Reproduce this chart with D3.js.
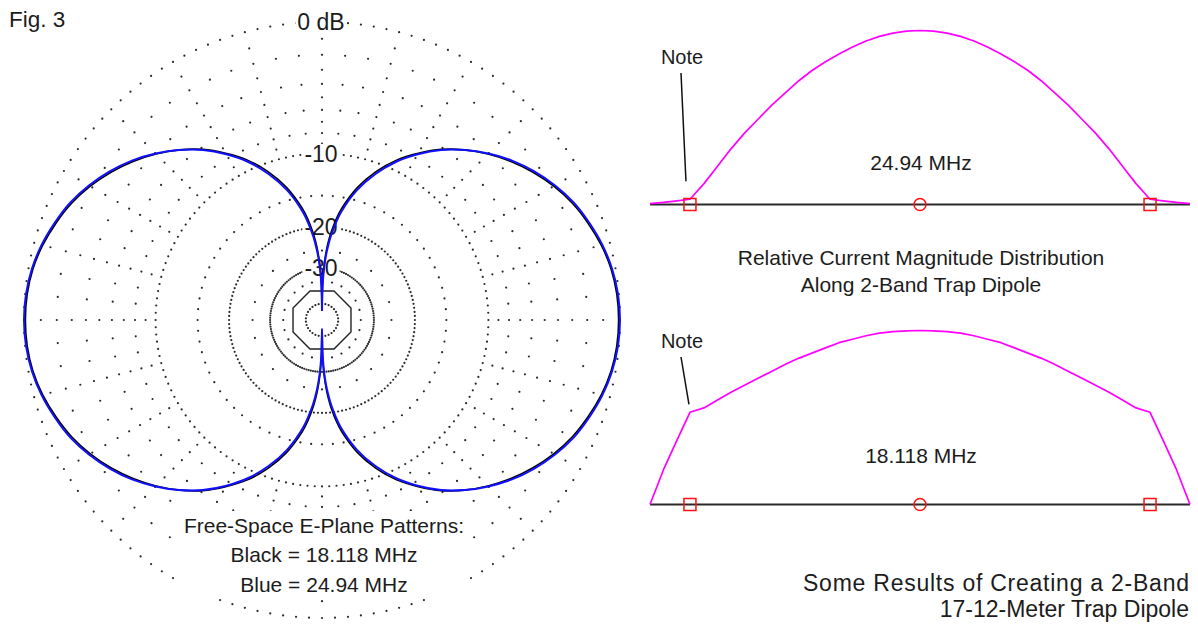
<!DOCTYPE html>
<html>
<head>
<meta charset="utf-8">
<script src="https://cdn.jsdelivr.net/npm/d3@7"></script>
<style>
  html, body { margin: 0; padding: 0; background: #fff; }
  svg { display: block; }
  text { font-family: "Liberation Sans", Arial, Helvetica, sans-serif; fill: #1c1c1c; }
</style>
</head>
<body>
<svg id="chart" width="1198" height="627"></svg>
<script>
// ---------- Free-space E-plane patterns ----------
// azimuth in degrees (0 = top, clockwise), relative gain in dB
const patternAngles = [
  0, 1, 2, 3, 4, 5, 6, 8, 10, 15, 20, 25, 30, 35, 40, 45, 50, 55, 60, 65, 70, 75, 80, 85, 90,
  95, 100, 105, 110, 115, 120, 125, 130, 135, 140, 145, 150, 155, 160, 165, 170, 172, 174, 175, 176, 177, 178, 179, 180,
  181, 182, 183, 184, 185, 186, 188, 190, 195, 200, 205, 210, 215, 220, 225, 230, 235, 240, 245, 250, 255, 260, 265, 270,
  275, 280, 285, 290, 295, 300, 305, 310, 315, 320, 325, 330, 335, 340, 345, 350, 352, 354, 355, 356, 357, 358, 359, 360
];
// Black = 18.118 MHz
const gain18118 = [
  -60, -35.5, -29.8, -26.5, -24.1, -22.3, -20.8, -18.4, -16.6, -13.3, -10.9, -9.0, -7.5, -6.15, -5.05, -4.1, -3.25, -2.5, -1.85, -1.3, -0.88, -0.52, -0.26, -0.12, -0.08,
  -0.12, -0.26, -0.52, -0.88, -1.3, -1.85, -2.5, -3.25, -4.1, -5.05, -6.15, -7.5, -9.0, -10.9, -13.3, -16.6, -18.4, -20.8, -22.3, -24.1, -26.5, -29.8, -35.5, -60,
  -35.5, -29.8, -26.5, -24.1, -22.3, -20.8, -18.4, -16.6, -13.3, -10.9, -9.0, -7.5, -6.15, -5.05, -4.1, -3.25, -2.5, -1.85, -1.3, -0.88, -0.52, -0.26, -0.12, -0.08,
  -0.12, -0.26, -0.52, -0.88, -1.3, -1.85, -2.5, -3.25, -4.1, -5.05, -6.15, -7.5, -9.0, -10.9, -13.3, -16.6, -18.4, -20.8, -22.3, -24.1, -26.5, -29.8, -35.5, -60
];
// Blue = 24.94 MHz
const gain2494 = [
  -60, -37.3, -31.2, -27.7, -25.2, -23.3, -21.7, -19.2, -17.2, -13.7, -11.2, -9.2, -7.6, -6.2, -5.05, -4.05, -3.15, -2.4, -1.75, -1.2, -0.8, -0.45, -0.2, -0.05, 0,
  -0.05, -0.2, -0.45, -0.8, -1.2, -1.75, -2.4, -3.15, -4.05, -5.05, -6.2, -7.6, -9.2, -11.2, -13.7, -17.2, -19.2, -21.7, -23.3, -25.2, -27.7, -31.2, -37.3, -60,
  -37.3, -31.2, -27.7, -25.2, -23.3, -21.7, -19.2, -17.2, -13.7, -11.2, -9.2, -7.6, -6.2, -5.05, -4.05, -3.15, -2.4, -1.75, -1.2, -0.8, -0.45, -0.2, -0.05, 0,
  -0.05, -0.2, -0.45, -0.8, -1.2, -1.75, -2.4, -3.15, -4.05, -5.05, -6.2, -7.6, -9.2, -11.2, -13.7, -17.2, -19.2, -21.7, -23.3, -25.2, -27.7, -31.2, -37.3, -60
];

// ---------- Polar grid (ARRL log scale, dB) ----------
const ringsFine = [0, -10, -20, -30];           // dotted every 2.5 degrees
const ringsMedium = [-2, -4, -6, -8, -15];      // dotted every 5 degrees
const spokeLevels = [-1, -3, -5, -7, -9, -25, -35]; // dots on the 15-degree spokes
const ringInner = -50;
const ringSolid = -40;
const dbLabels = ["0 dB", "-10", "-20", "-30"];
const dbLabelLevels = [0, -10, -20, -30];
const legendLines = ["Free-Space E-Plane Patterns:", "Black = 18.118 MHz", "Blue = 24.94 MHz"];

// ---------- Relative current along the wire ----------
// position from left end (-1) through feed (0) to right end (+1)
const wirePos = [
  -1, -0.95, -0.9, -0.852, -0.8, -0.75, -0.7, -0.65, -0.6, -0.55, -0.5, -0.45, -0.4, -0.35, -0.3, -0.25, -0.2, -0.15, -0.1, -0.05, 0,
  0.05, 0.1, 0.15, 0.2, 0.25, 0.3, 0.35, 0.4, 0.45, 0.5, 0.55, 0.6, 0.65, 0.7, 0.75, 0.8, 0.852, 0.9, 0.95, 1
];
const current2494 = [
  0.005, 0.012, 0.021, 0.03, 0.12, 0.22, 0.32, 0.41, 0.49, 0.57, 0.64, 0.71, 0.77, 0.82, 0.865, 0.905, 0.94, 0.966, 0.985, 0.996, 1,
  0.996, 0.985, 0.966, 0.94, 0.905, 0.865, 0.82, 0.77, 0.71, 0.64, 0.57, 0.49, 0.41, 0.32, 0.22, 0.12, 0.03, 0.021, 0.012, 0.005
];
const current18118 = [
  0, 0.2, 0.37, 0.53, 0.555, 0.6, 0.645, 0.685, 0.725, 0.765, 0.805, 0.84, 0.87, 0.9, 0.93, 0.95, 0.97, 0.985, 0.993, 0.998, 1,
  0.998, 0.993, 0.985, 0.97, 0.95, 0.93, 0.9, 0.87, 0.84, 0.805, 0.765, 0.725, 0.685, 0.645, 0.6, 0.555, 0.53, 0.37, 0.2, 0
];
const trapPos = [-0.852, 0.852];
const feedPos = [0];
const panelTitles = ["24.94 MHz", "18.118 MHz"];
const captionLines = ["Relative Current Magnitude Distribution", "Along 2-Band Trap Dipole"];
const titleLines = ["Some Results of Creating a 2-Band", "17-12-Meter Trap Dipole"];

// ====================================================================
const svg = d3.select("#chart");

// ---------- polar plot ----------
const cx = 322, cy = 320, R = 298;
// ARRL log scale: radius shrinks by 0.89 per 2 dB -> a power law on field strength
const amp = d3.scalePow().exponent(-10 * Math.log10(0.89)).domain([0, 1]).range([0, R]);
const rOf = db => amp(Math.pow(10, db / 20));
const rad = deg => deg * Math.PI / 180;

const polar = svg.append("g").attr("transform", `translate(${cx},${cy})`);
const gridDots = [];
const addRing = (db, step) => {
  for (let a = 0; a < 360 - 1e-6; a += step) gridDots.push({ r: rOf(db), a });
};
ringsFine.forEach(db => addRing(db, 2.5));
ringsMedium.forEach(db => addRing(db, 5));
addRing(ringInner, 12);
spokeLevels.forEach(db => { for (let a = 0; a < 360; a += 15) gridDots.push({ r: rOf(db), a }); });

polar.append("g").selectAll("circle").data(gridDots).join("circle")
  .attr("cx", d => d.r * Math.sin(rad(d.a)))
  .attr("cy", d => -d.r * Math.cos(rad(d.a)))
  .attr("r", 1.1)
  .attr("fill", "#2a2a2a");

// solid -40 dB octagon
const octR = rOf(ringSolid) / Math.cos(rad(22.5));
const octagon = d3.range(8).map(i => [rad(22.5 + 45 * i), octR]);
polar.append("path")
  .attr("d", d3.lineRadial().curve(d3.curveLinearClosed)(octagon))
  .attr("fill", "none").attr("stroke", "#222").attr("stroke-width", 1.4);

// dB labels on the vertical axis, boxed in white
dbLabels.forEach((t, i) => {
  const y = -rOf(dbLabelLevels[i]);
  const g = polar.append("g");
  const txt = g.append("text").attr("x", -1).attr("y", y).attr("dy", "0.36em")
    .attr("text-anchor", "middle").attr("font-size", 23).text(t);
  const bb = txt.node().getBBox();
  g.insert("rect", "text").attr("x", bb.x - 2).attr("y", bb.y + 3)
    .attr("width", bb.width + 4).attr("height", bb.height - 5).attr("fill", "#fff");
});

// pattern traces
const patternLine = d3.lineRadial()
  .angle(d => rad(d[0])).radius(d => rOf(d[1]))
  .curve(d3.curveCatmullRom.alpha(0.5));
polar.append("path")
  .attr("d", patternLine(patternAngles.map((a, i) => [a, gain18118[i]])))
  .attr("fill", "none").attr("stroke", "#000").attr("stroke-width", 1.6);
polar.append("path")
  .attr("d", patternLine(patternAngles.map((a, i) => [a, gain2494[i]])))
  .attr("fill", "none").attr("stroke", "#1010ff").attr("stroke-width", 2);

// legend block under the plot
svg.append("rect").attr("x", 176).attr("y", 511).attr("width", 294).attr("height", 86).attr("fill", "#fff");
svg.append("text").attr("text-anchor", "middle").attr("font-size", 21)
  .selectAll("tspan").data(legendLines).join("tspan")
  .attr("x", 324).attr("y", (d, i) => 533 + i * 29.3).text(d => d);

svg.append("text").attr("x", 9).attr("y", 27).attr("font-size", 22.5).text("Fig. 3");

// ---------- current distribution panels ----------
const xw = d3.scaleLinear().domain([-1, 1]).range([650, 1190]);
const panels = [
  { base: 204.5, values: current2494, title: panelTitles[0], titleY: 170, noteY: 64, noteFrom: [681, 73], noteOff: [-4, -18] },
  { base: 504.5, values: current18118, title: panelTitles[1], titleY: 463, noteY: 348, noteFrom: [681, 357], noteOff: [-1, -8] }
];
panels.forEach(p => {
  const y = d3.scaleLinear().domain([0, 1]).range([p.base, p.base - 174]);
  const g = svg.append("g");
  g.append("line").attr("x1", xw(-1)).attr("x2", xw(1)).attr("y1", p.base).attr("y2", p.base)
    .attr("stroke", "#2a2a2a").attr("stroke-width", 2);
  g.append("path")
    .attr("d", d3.line().x(d => xw(d[0])).y(d => y(d[1])).curve(d3.curveLinear)(wirePos.map((w, i) => [w, p.values[i]])))
    .attr("fill", "none").attr("stroke", "#ff00ff").attr("stroke-width", 1.7).attr("stroke-linejoin", "round");
  g.selectAll("rect.trap").data(trapPos).join("rect").attr("class", "trap")
    .attr("x", d => xw(d) - 6).attr("y", p.base - 6).attr("width", 12).attr("height", 12)
    .attr("fill", "none").attr("stroke", "#ff1010").attr("stroke-width", 1.5);
  g.selectAll("circle.feed").data(feedPos).join("circle").attr("class", "feed")
    .attr("cx", d => xw(d)).attr("cy", p.base).attr("r", 6)
    .attr("fill", "none").attr("stroke", "#ff1010").attr("stroke-width", 1.5);
  g.append("text").attr("x", xw(0) + 1).attr("y", p.titleY).attr("text-anchor", "middle")
    .attr("font-size", 21).text(p.title);
  // "Note" pointer to the left trap
  const ti = wirePos.indexOf(trapPos[0]);
  const tip = [xw(trapPos[0]) + p.noteOff[0], y(p.values[ti]) + p.noteOff[1]];
  g.append("text").attr("x", 682).attr("y", p.noteY).attr("text-anchor", "middle")
    .attr("font-size", 20).text("Note");
  g.append("line").attr("x1", p.noteFrom[0]).attr("y1", p.noteFrom[1]).attr("x2", tip[0]).attr("y2", tip[1])
    .attr("stroke", "#111").attr("stroke-width", 1.5);
});

svg.append("text").attr("text-anchor", "middle").attr("font-size", 21)
  .selectAll("tspan").data(captionLines).join("tspan")
  .attr("x", 921).attr("y", (d, i) => 265 + i * 27).text(d => d);

// figure title, bottom right (first line letter-spaced a little wider)
const title = svg.append("g").attr("font-size", 23);
title.append("text").attr("text-anchor", "end").attr("x", 1189).attr("y", 591)
  .attr("textLength", 386).attr("lengthAdjust", "spacing").text(titleLines[0]);
title.append("text").attr("text-anchor", "end").attr("x", 1189).attr("y", 617)
  .text(titleLines[1]);
</script>
</body>
</html>
